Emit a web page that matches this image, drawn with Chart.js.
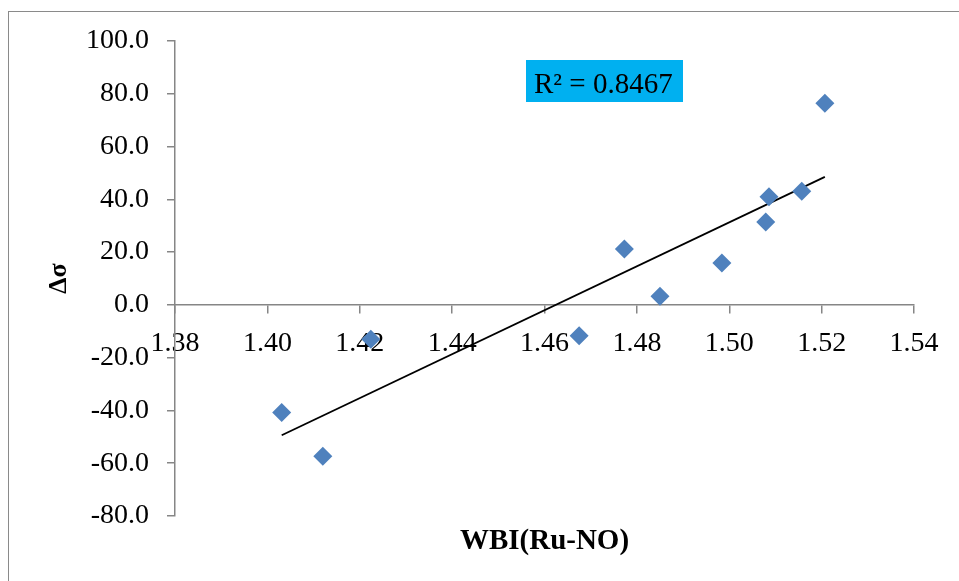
<!DOCTYPE html>
<html>
<head>
<meta charset="utf-8">
<script src="https://cdn.jsdelivr.net/npm/chart.js@4.4.1/dist/chart.umd.min.js"></script>
<style>
  html, body { margin: 0; padding: 0; background: #fff; }
  #wrap { position: relative; width: 959px; height: 581px; overflow: hidden; }
  #frame {
    position: absolute; left: 8px; top: 11px; right: -10px; bottom: -10px;
    border-left: 1.5px solid #8a8a8a; border-top: 1.5px solid #8a8a8a;
  }
  canvas { position: absolute; left: 0; top: 0; }
</style>
</head>
<body>
<div id="wrap">
  <div id="frame"></div>
  <canvas id="chart" width="959" height="581"></canvas>
</div>
<script>
// values
const wbi = [1.4031, 1.4120, 1.4224, 1.4675, 1.4773, 1.4850, 1.4984, 1.5079, 1.5086, 1.5157, 1.5207];
const deltaSigma = [-40.8, -57.4, -13.0, -11.7, 21.2, 3.3, 15.9, 31.4, 41.0, 43.1, 76.4];

// linear trendline end points
const trendX = [1.4031, 1.5207];
const trendY = [-49.4, 48.5];

const xRange = [1.38, 1.54];
const yRange = [-80, 100];
const xStep = 0.02;
const yStep = 20;

const rSquaredText = "R² = 0.8467";
const xTitle = "WBI(Ru-NO)";
const yTitle = "Δσ";

const serif = "'Liberation Serif', 'Times New Roman', serif";
const axisGrey = "#868686";

// x title and the R² label box
const labelsPlugin = {
  id: "labels",
  afterDraw(chart) {
    const { ctx, chartArea } = chart;
    ctx.save();
    // R² box
    const bx = chartArea.left + 351;
    const by = chartArea.top + 19;
    ctx.fillStyle = "#00b0f0";
    ctx.fillRect(bx, by, 157, 42);
    ctx.fillStyle = "#000";
    ctx.font = "29px " + serif;
    ctx.textBaseline = "alphabetic";
    ctx.textAlign = "left";
    ctx.fillText(rSquaredText, bx + 8, by + 33);
    // x axis title
    ctx.font = "bold 29px " + serif;
    ctx.textAlign = "center";
    ctx.fillText(xTitle, (chartArea.left + chartArea.right) / 2, chartArea.bottom + 33);
    ctx.restore();
  },
};

const points = wbi.map((x, i) => ({ x, y: deltaSigma[i] }));
const trend = trendX.map((x, i) => ({ x, y: trendY[i] }));

new Chart(document.getElementById("chart"), {
  type: "scatter",
  data: {
    datasets: [
      {
        label: "Δσ",
        data: points,
        pointStyle: "rectRot",
        pointRadius: 9.5,
        pointHoverRadius: 9.5,
        backgroundColor: "#4f81bd",
        borderColor: "#4f81bd",
        borderWidth: 0,
        order: 1,
      },
      {
        type: "line",
        label: "trend",
        data: trend,
        borderColor: "#000",
        borderWidth: 1.8,
        pointRadius: 0,
        fill: false,
        order: 2,
      },
    ],
  },
  options: {
    responsive: false,
    animation: false,
    layout: { padding: { left: 8, right: 45, top: 41, bottom: 65 } },
    plugins: {
      legend: { display: false },
      tooltip: { enabled: false },
    },
    scales: {
      x: {
        type: "linear",
        position: { y: 0 },
        min: xRange[0],
        max: xRange[1],
        border: { display: true, color: axisGrey, width: 1.5 },
        grid: { drawOnChartArea: false, drawTicks: true, tickLength: 8, color: axisGrey, lineWidth: 1.5 },
        ticks: {
          stepSize: xStep,
          padding: 14,
          color: "#000",
          font: { family: serif, size: 28 },
          maxRotation: 0,
          callback: (v) => Number(v).toFixed(2),
        },
      },
      y: {
        type: "linear",
        position: "left",
        min: yRange[0],
        max: yRange[1],
        afterFit(scale) {
          scale.width = 167;
        },
        border: { display: true, color: axisGrey, width: 1.5 },
        grid: { drawOnChartArea: false, drawTicks: true, tickLength: 8, color: axisGrey, lineWidth: 1.5 },
        ticks: {
          stepSize: yStep,
          padding: 18,
          color: "#000",
          font: { family: serif, size: 28 },
          callback: (v) => Number(v).toFixed(1),
        },
        title: {
          display: true,
          text: yTitle,
          color: "#000",
          font: { family: serif, size: 26, weight: "bold" },
          padding: { top: 36, bottom: 0 },
        },
      },
    },
  },
  plugins: [labelsPlugin],
});
</script>
</body>
</html>
